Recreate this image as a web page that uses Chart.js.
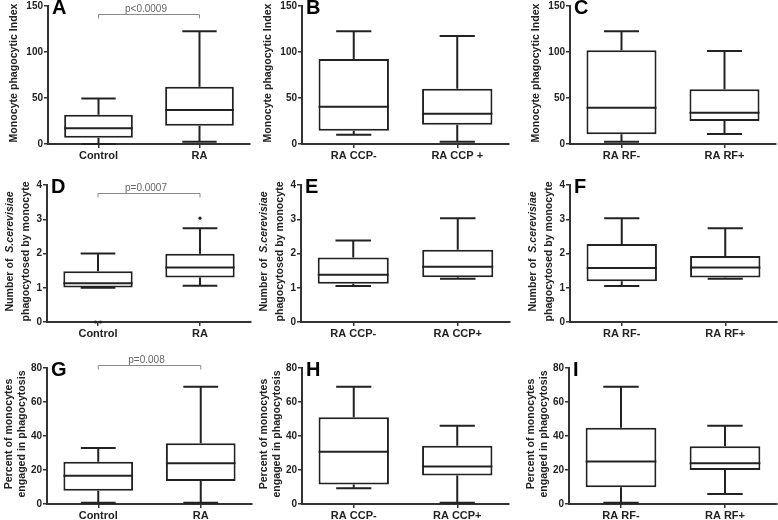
<!DOCTYPE html>
<html>
<head>
<meta charset="utf-8">
<script src="https://cdn.jsdelivr.net/npm/chart.js@4.4.0/dist/chart.umd.min.js"></script>
<style>
  html, body { margin: 0; padding: 0; background: #fff; }
  body { width: 778px; height: 520px; position: relative; overflow: hidden; }
  canvas { position: absolute; }
</style>
</head>
<body>
<script>
// five-number summaries per group: [min, q1, median, q3, max]
const labelsControl = ['Control', 'RA'];
const labelsCcpB = ['RA CCP-', 'RA CCP +'];
const labelsCcp = ['RA CCP-', 'RA CCP+'];
const labelsRf = ['RA RF-', 'RA RF+'];

const statsA = [[0, 6.9, 17, 31.8, 49.5], [2.5, 19.9, 36.9, 62.2, 122.5]];
const statsB = [[10, 14.5, 40.5, 92.5, 122.5], [2.5, 21, 33, 60, 117.5]];
const statsC = [[2.5, 10.5, 39.5, 102, 122.5], [11, 25, 34, 59.6, 101]];
const statsD = [[1.0, 1.01, 1.13, 1.48, 2.0], [1.06, 1.3, 1.59, 1.99, 2.74]];
const statsE = [[1.05, 1.12, 1.38, 1.88, 2.38], [1.26, 1.31, 1.61, 2.11, 3.03]];
const statsF = [[1.05, 1.19, 1.58, 2.28, 3.03], [1.26, 1.3, 1.59, 1.93, 2.74]];
const statsG = [[0.8, 7.8, 16.6, 24.8, 32.9], [0.8, 13.6, 23.9, 35.8, 69]];
const statsH = [[9.2, 11.5, 30.8, 51, 69], [0.8, 16.7, 22, 34.3, 46]];
const statsI = [[0.8, 9.8, 25, 44.8, 69], [5.9, 20, 24, 34, 46]];

const outliersD = [[0, 0], [3.03]];

const ticksRow1 = [0, 50, 100, 150];
const ticksRow2 = [0, 1, 2, 3, 4];
const ticksRow3 = [0, 20, 40, 60, 80];

const pA = { value: 141, text: 'p<0.0009' };
const pD = { value: 3.77, text: 'p=0.0007' };
const pG = { value: 81.8, text: 'p=0.008' };

const FONT = '"Liberation Sans", Arial, sans-serif';
const INK = '#222';
const AXIS = '#333';

const titleRow1 = [{ dx: -34, parts: [['Monocyte phagocytic Index', false]] }];
const titleRow2 = [
  { dx: -37, parts: [['Number of  ', false], ['S.cerevisiae', true]] },
  { dx: -21, parts: [['phagocytosed by monocyte', false]] }
];
const titleRow3 = [
  { dx: -38, parts: [['Percent of monocytes', false]] },
  { dx: -25, parts: [['engaged in phagocytosis', false]] }
];

// box whiskers, median, outliers, p-value bracket, panel letter
const boxPlot = {
  id: 'boxPlot',
  afterDatasetsDraw(chart, args, opts) {
    const ctx = chart.ctx, y = chart.scales.y, a = chart.chartArea;
    const meta = chart.getDatasetMeta(0);
    ctx.save();
    ctx.strokeStyle = INK;
    ctx.lineWidth = 2;
    opts.stats.forEach((s, i) => {
      const bar = meta.data[i];
      const cx = bar.x, half = bar.width / 2;
      const [mn, q1, md, q3, mx] = s.map(v => y.getPixelForValue(v));
      ctx.beginPath();
      ctx.moveTo(cx, q3); ctx.lineTo(cx, mx);
      ctx.moveTo(cx - half / 2, mx); ctx.lineTo(cx + half / 2, mx);
      ctx.moveTo(cx, q1); ctx.lineTo(cx, mn);
      ctx.moveTo(cx - half / 2, mn); ctx.lineTo(cx + half / 2, mn);
      ctx.moveTo(cx - half, md); ctx.lineTo(cx + half, md);
      ctx.stroke();
      const outs = (opts.outliers && opts.outliers[i]) || [];
      ctx.fillStyle = INK;
      outs.forEach((v, k) => {
        const off = outs.length > 1 ? (k - (outs.length - 1) / 2) * 5 : 0;
        ctx.beginPath();
        ctx.arc(cx + off, y.getPixelForValue(v), 1.6, 0, Math.PI * 2);
        ctx.fill();
      });
    });
    if (opts.bracket) {
      const x1 = meta.data[0].x, x2 = meta.data[1].x;
      const by = Math.round(y.getPixelForValue(opts.bracket.value)) + 0.5;
      ctx.strokeStyle = '#8a8a8a';
      ctx.lineWidth = 1;
      ctx.beginPath();
      ctx.moveTo(x1, by + 4); ctx.lineTo(x1, by); ctx.lineTo(x2, by); ctx.lineTo(x2, by + 4);
      ctx.stroke();
      ctx.fillStyle = '#666';
      ctx.font = '10px ' + FONT;
      ctx.textAlign = 'center';
      ctx.textBaseline = 'alphabetic';
      ctx.fillText(opts.bracket.text, (x1 + x2) / 2 - 3, by - 3);
    }
    ctx.fillStyle = '#000';
    ctx.font = 'bold 20px ' + FONT;
    ctx.textAlign = 'left';
    ctx.textBaseline = 'alphabetic';
    ctx.fillText(opts.letter, a.left + 4, a.top + 8);
    ctx.restore();
  }
};

// rotated y-axis title with italic runs
const yTitle = {
  id: 'yTitle',
  afterDraw(chart, args, opts) {
    const ctx = chart.ctx, a = chart.chartArea;
    const cy = (a.top + a.bottom) / 2 - 2;
    const fontOf = p => (p[1] ? 'italic ' : '') + 'bold 10.6px ' + FONT;
    ctx.save();
    ctx.fillStyle = INK;
    ctx.textBaseline = 'middle';
    ctx.textAlign = 'left';
    opts.lines.forEach(line => {
      let total = 0;
      line.parts.forEach(p => { ctx.font = fontOf(p); total += ctx.measureText(p[0]).width; });
      ctx.save();
      ctx.translate(a.left + line.dx, cy);
      ctx.rotate(-Math.PI / 2);
      let x = -total / 2;
      line.parts.forEach(p => {
        ctx.font = fontOf(p);
        ctx.fillText(p[0], x, 0);
        x += ctx.measureText(p[0]).width;
      });
      ctx.restore();
    });
    ctx.restore();
  }
};

function makePanel(letter, labels, stats, ticks, title, pos, extra) {
  const canvas = document.createElement('canvas');
  const left = pos.ax - 50;
  const top = pos.top - 24;
  const width = pos.end - left + 2;
  const height = Math.min(pos.bottom + 26, 520) - top;
  const xh = height - 24 - (pos.bottom - pos.top);
  canvas.width = width;
  canvas.height = height;
  canvas.style.left = left + 'px';
  canvas.style.top = top + 'px';
  document.body.appendChild(canvas);

  new Chart(canvas.getContext('2d'), {
    type: 'bar',
    data: {
      labels: labels,
      datasets: [{
        data: stats.map(s => [s[1], s[3]]),
        backgroundColor: '#fff',
        borderColor: INK,
        borderWidth: 2,
        borderSkipped: false,
        barPercentage: 0.68,
        categoryPercentage: 1
      }]
    },
    options: {
      responsive: false,
      animation: false,
      events: [],
      layout: { padding: { left: 0, top: 24, right: 2, bottom: 0 } },
      plugins: {
        legend: { display: false },
        tooltip: { enabled: false },
        boxPlot: Object.assign({ stats: stats, letter: letter }, extra || {}),
        yTitle: { lines: title }
      },
      scales: {
        x: {
          afterFit(s) { s.height = xh; },
          border: { color: AXIS, width: 2 },
          grid: { offset: false, drawOnChartArea: false, tickLength: 4, color: AXIS, lineWidth: 1.5 },
          ticks: { color: INK, padding: 1, font: { family: FONT, size: 11, weight: 'bold' } }
        },
        y: {
          min: ticks[0],
          max: ticks[ticks.length - 1],
          afterFit(s) { s.width = 50; },
          afterBuildTicks(s) { s.ticks = ticks.map(v => ({ value: v })); },
          border: { color: AXIS, width: 2 },
          grid: { drawOnChartArea: false, tickLength: 4, color: AXIS, lineWidth: 1.5 },
          ticks: { color: INK, padding: 1, font: { family: FONT, size: 10, weight: 'bold' } }
        }
      }
    },
    plugins: [boxPlot, yTitle]
  });
}

makePanel('A', labelsControl, statsA, ticksRow1, titleRow1, { ax: 48, end: 250, top: 6, bottom: 144 }, { bracket: pA });
makePanel('B', labelsCcpB, statsB, ticksRow1, titleRow1, { ax: 302, end: 509, top: 6, bottom: 144 });
makePanel('C', labelsRf, statsC, ticksRow1, titleRow1, { ax: 570, end: 776, top: 6, bottom: 144 });
makePanel('D', labelsControl, statsD, ticksRow2, titleRow2, { ax: 47, end: 251, top: 185, bottom: 322 }, { bracket: pD, outliers: outliersD });
makePanel('E', labelsCcp, statsE, ticksRow2, titleRow2, { ax: 301, end: 510, top: 185, bottom: 322 });
makePanel('F', labelsRf, statsF, ticksRow2, titleRow2, { ax: 570, end: 777, top: 185, bottom: 322 });
makePanel('G', labelsControl, statsG, ticksRow3, titleRow3, { ax: 47, end: 252, top: 368, bottom: 504 }, { bracket: pG });
makePanel('H', labelsCcp, statsH, ticksRow3, titleRow3, { ax: 302, end: 509, top: 368, bottom: 504 });
makePanel('I', labelsRf, statsI, ticksRow3, titleRow3, { ax: 569, end: 777, top: 368, bottom: 504 });
</script>
</body>
</html>
